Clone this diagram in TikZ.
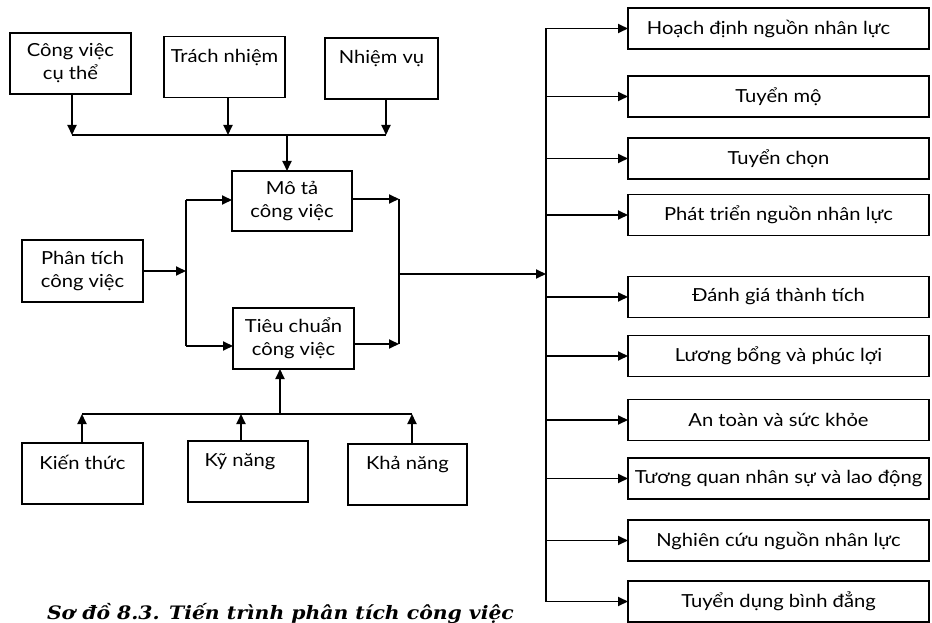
\documentclass[tikz,border=0pt]{standalone}
\usepackage{fontspec}
\setmainfont{Lato}[FakeStretch=1.12]
\newfontfamily\capfont{DejaVu Serif}[FakeStretch=1.10]
\usetikzlibrary{arrows.meta}

\begin{document}
\begin{tikzpicture}[x=1pt,y=-1pt,
  every node/.style={inner sep=0pt, outer sep=0pt},
  box/.style={draw, line width=1.9pt, align=center, font=\fontsize{18}{23}\selectfont},
  lbox/.style={box, minimum width=121pt, minimum height=61pt},
  rbox/.style={box, minimum width=301pt, minimum height=41pt},
  link/.style={line width=1.9pt},
  arr/.style={link, -{Triangle[length=10pt,width=9pt]}},
]
\useasboundingbox (0,0) rectangle (932,623);

% job content boxes (top row)
\node[lbox] (cv) at (70.5,63.5) {Công việc\\cụ thể};
\node[lbox] (tn) at (224.5,67) {Trách nhiệm\\\mbox{}};
\node[lbox, minimum width=113pt] (nv) at (381.5,68.5) {Nhiệm vụ\\\mbox{}};

% analysis and its two products
\node[lbox, minimum width=120pt, minimum height=60pt] (mt) at (292,201) {Mô tả\\công việc};
\node[lbox] (tc) at (293.5,338.5) {Tiêu chuẩn\\công việc};
\node[lbox, minimum height=62pt] (pt) at (82.5,271) {Phân tích\\công việc};

% qualification boxes (bottom row)
\node[lbox] (kt) at (82.5,473.5) {Kiến thức\\\mbox{}};
\node[lbox, minimum width=120pt] (kn) at (248,471.5) {Kỹ năng\hspace*{16pt}\\\mbox{}};
\node[lbox, minimum width=119pt] (kh) at (407.5,474.5) {Khả năng\\\mbox{}};

% HR functions (right column)
\node[rbox] (r1) at (778.5,28.5) {Hoạch định nguồn nhân lực\hspace*{20pt}};
\node[rbox] (r2) at (778.5,96.5) {Tuyển mộ};
\node[rbox] (r3) at (778.5,158.5) {Tuyển chọn};
\node[rbox] (r4) at (778.5,215) {Phát triển nguồn nhân lực};
\node[rbox] (r5) at (778.5,297) {Đánh giá thành tích};
\node[rbox] (r6) at (778.5,356) {Lương bổng và phúc lợi};
\node[rbox] (r7) at (778.5,420) {An toàn và sức khỏe};
\node[rbox] (r8) at (778.5,478.5) {Tương quan nhân sự và lao động};
\node[rbox] (r9) at (778.5,540.5) {Nghiên cứu nguồn nhân lực};
\node[rbox] (r10) at (778.5,601.5) {Tuyển dụng bình đẳng};

% caption
\node[anchor=base west, font=\capfont\bfseries\itshape\fontsize{18.5}{20}\selectfont] (cap) at (47,619) {Sơ đồ 8.3. Tiến trình phân tích công việc};

% bus positions
\coordinate (tbus) at (0,135);
\coordinate (bbus) at (0,414);
\coordinate (lbus) at (186,0);
\coordinate (bus) at (546,0);
\coordinate (lb1) at (186,200);
\coordinate (lb2) at (186,346);
\coordinate (rb1) at (399,199);
\coordinate (rb2) at (399,344);
\coordinate (mid) at (399,274);

% top row feeds the job description
\coordinate (cv-out) at ([xshift=1.5pt]cv.south);
\coordinate (tn-out) at ([xshift=3.5pt]tn.south);
\coordinate (nv-out) at ([xshift=4.5pt]nv.south);
\coordinate (mt-in) at ([xshift=-5pt]mt.north);
\draw[arr] (cv-out) -- (cv-out |- tbus);
\draw[arr] (tn-out) -- (tn-out |- tbus);
\draw[arr] (nv-out) -- (nv-out |- tbus);
\draw[link] (cv-out |- tbus) -- (nv-out |- tbus);
\draw[arr] (mt-in |- tbus) -- (mt-in);

% analysis splits into description and specification
\draw[arr] (pt.east) -- (pt.east -| lbus);
\draw[link] (lb1) -- (lb2);
\draw[arr] (lb1) -- (lb1 -| mt.west);
\draw[arr] (lb2) -- (lb2 -| tc.west);

% both join towards the HR functions
\draw[arr] (rb1 -| mt.east) -- (rb1);
\draw[arr] (rb2 -| tc.east) -- (rb2);
\draw[link] (rb1) -- (rb2);
\draw[arr] (mid) -- (mid -| bus);

% distribution bus on the right
\draw[link] (r1.west -| bus) -- (r10.west -| bus);
\foreach \i in {1,...,10} \draw[arr] (r\i.west -| bus) -- (r\i.west);

% bottom row feeds the job specification
\coordinate (kt-out) at ([xshift=-0.5pt]kt.north);
\coordinate (kn-out) at ([xshift=-7pt]kn.north);
\coordinate (kh-out) at ([xshift=4.5pt]kh.north);
\coordinate (tc-in) at ([xshift=-13.5pt]tc.south);
\draw[arr] (kt-out) -- (kt-out |- bbus);
\draw[arr] (kn-out) -- (kn-out |- bbus);
\draw[arr] (kh-out) -- (kh-out |- bbus);
\draw[link] (kt-out |- bbus) -- (kh-out |- bbus);
\draw[arr] (tc-in |- bbus) -- (tc-in);
\end{tikzpicture}
\end{document}
